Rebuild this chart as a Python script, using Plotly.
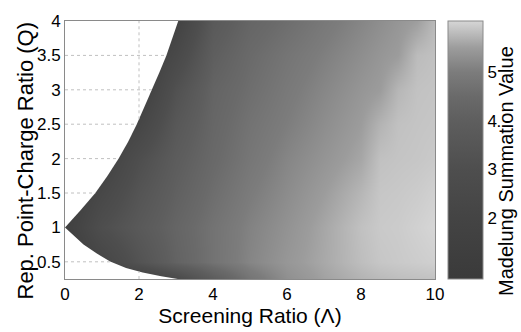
import numpy as np
import plotly.graph_objects as go

# Screening ratio (Lambda) grid and point-charge ratio (Q) grid
lam = [0, 1, 2, 3, 4, 5, 6, 7, 8, 8.5, 9, 9.5, 10]
q = [0.25, 0.5, 1.0, 1.5, 2.0, 2.5, 3.0, 3.5, 4.0]

# Madelung summation values read from the shading (rows follow q)
z_q025 = [1.0, 1.25, 1.75, 2.6, 3.9, 4.8, 5.3, 5.55, 5.72, 5.78, 5.82, 5.84, 5.86]
z_q050 = [1.25, 2.2, 3.3, 4.2, 4.75, 5.15, 5.42, 5.62, 5.82, 5.9, 5.93, 5.96, 5.99]
z_q100 = [1.5, 3.0, 3.7, 4.3, 4.75, 5.1, 5.35, 5.6, 5.85, 5.93, 5.95, 6.0, 6.05]
z_q150 = [1.25, 2.4, 3.4, 4.1, 4.6, 4.98, 5.25, 5.5, 5.75, 5.9, 5.92, 5.95, 6.0]
z_q200 = [1.25, 1.75, 3.0, 3.9, 4.45, 4.85, 5.15, 5.38, 5.6, 5.85, 5.88, 5.9, 5.93]
z_q250 = [1.5, 1.5, 2.2, 3.6, 4.35, 4.75, 5.02, 5.27, 5.5, 5.72, 5.85, 5.88, 5.9]
z_q300 = [1.5, 1.5, 1.5, 3.2, 4.25, 4.62, 4.92, 5.17, 5.4, 5.5, 5.75, 5.86, 5.88]
z_q350 = [1.25, 1.25, 1.25, 2.5, 4.0, 4.5, 4.8, 5.05, 5.28, 5.4, 5.5, 5.8, 5.85]
z_q400 = [1.0, 1.0, 1.0, 1.8, 3.7, 4.3, 4.6, 4.9, 5.15, 5.28, 5.4, 5.52, 5.78]

# Boundary of the region with no solution (white)
upper_lam = [0, 0.17, 0.42, 0.82, 1.15, 1.45, 1.71, 1.94, 2.15, 2.35, 2.55, 2.74, 2.91, 3.06]
upper_q = [1.0, 1.1, 1.25, 1.5, 1.75, 2.0, 2.25, 2.5, 2.75, 3.0, 3.25, 3.5, 3.75, 4.0]
lower_lam = [0, 0.25, 0.5, 0.86, 1.22, 1.65, 2.1, 2.6, 3.05]
lower_q = [1.0, 0.87, 0.75, 0.62, 0.505, 0.41, 0.345, 0.29, 0.25]

x_ticks = [0, 2, 4, 6, 8, 10]
y_ticks = [0.5, 1, 1.5, 2, 2.5, 3, 3.5, 4]
y_ticktext = ["0.5", "1", "1.5", "2", "2.5", "3", "3.5", "4"]
cb_ticks = [2, 3, 4, 5]

zmin, zmax = 0.75, 6.05
z = [z_q025, z_q050, z_q100, z_q150, z_q200, z_q250, z_q300, z_q350, z_q400]

colorscale = [
    [0.0, "rgb(58,58,58)"],
    [0.236, "rgb(68,68,68)"],
    [0.4245, "rgb(78,78,78)"],
    [0.613, "rgb(94,94,94)"],
    [0.708, "rgb(106,106,106)"],
    [0.802, "rgb(124,124,124)"],
    [0.896, "rgb(156,156,156)"],
    [1.0, "rgb(214,214,214)"],
]

FONT = "Liberation Sans, Arial, sans-serif"

fig = go.Figure()
fig.add_trace(go.Heatmap(
    x=lam, y=q, z=z, zsmooth="best", colorscale=colorscale,
    zmin=zmin, zmax=zmax,
    colorbar=dict(
        thickness=35, thicknessmode="pixels", len=1, lenmode="fraction",
        x=1.035, xanchor="left", xpad=0, y=0.5, yanchor="middle", ypad=0,
        outlinewidth=1, outlinecolor="#8a8a8a",
        tickvals=cb_ticks, ticks="", tickfont=dict(size=17, family=FONT, color="black"),
    ),
    hoverinfo="skip",
))

# white excluded regions
fig.add_trace(go.Scatter(
    x=upper_lam + [0], y=upper_q + [4.0], fill="toself", fillcolor="white",
    mode="lines", line=dict(width=0, color="white"), showlegend=False, hoverinfo="skip"))
fig.add_trace(go.Scatter(
    x=lower_lam + [0], y=lower_q + [0.25], fill="toself", fillcolor="white",
    mode="lines", line=dict(width=0, color="white"), showlegend=False, hoverinfo="skip"))

# grid lines visible only inside the white region
gx, gy = [], []
for yt in [1.5, 2, 2.5, 3, 3.5]:
    gx += [0, float(np.interp(yt, upper_q, upper_lam)), None]
    gy += [yt, yt, None]
gx += [0, float(np.interp(0.5, lower_q[::-1], lower_lam[::-1])), None]
gy += [0.5, 0.5, None]
gx += [2, 2, None, 2, 2]
gy += [float(np.interp(2, upper_lam, upper_q)), 4.0, None, 0.25,
       float(np.interp(2, lower_lam, lower_q))]
fig.add_trace(go.Scatter(x=gx, y=gy, mode="lines",
                         line=dict(color="#c0c0c0", width=1, dash="dot"),
                         showlegend=False, hoverinfo="skip"))

fig.update_layout(
    width=521, height=332,
    margin=dict(l=65, r=86, t=13, b=49),
    paper_bgcolor="white", plot_bgcolor="white",
    font=dict(family=FONT, color="black", size=16),
    xaxis=dict(range=[0, 10], tickvals=x_ticks, showgrid=False, zeroline=False,
               showline=True, mirror=True, linecolor="#8a8a8a", linewidth=1,
               ticks="", tickfont=dict(size=17),
               title=dict(text="Screening Ratio (Λ)", font=dict(size=21), standoff=1)),
    yaxis=dict(range=[0.25, 4], tickvals=y_ticks, ticktext=y_ticktext,
               showgrid=False, zeroline=False,
               showline=True, mirror=True, linecolor="#8a8a8a", linewidth=1,
               ticks="", tickfont=dict(size=17)),
    annotations=[
        dict(text="Rep. Point-Charge Ratio (Q)", textangle=-90, showarrow=False,
             xref="paper", yref="paper", x=(26 - 65) / 370, y=(283 - 159) / 270,
             xanchor="center", yanchor="middle", font=dict(size=22)),
        dict(text="Madelung Summation Value", textangle=-90, showarrow=False,
             xref="paper", yref="paper", x=(506 - 65) / 370, y=(283 - 170) / 270,
             xanchor="center", yanchor="middle", font=dict(size=20)),
    ],
)

fig.write_html("out.html")
